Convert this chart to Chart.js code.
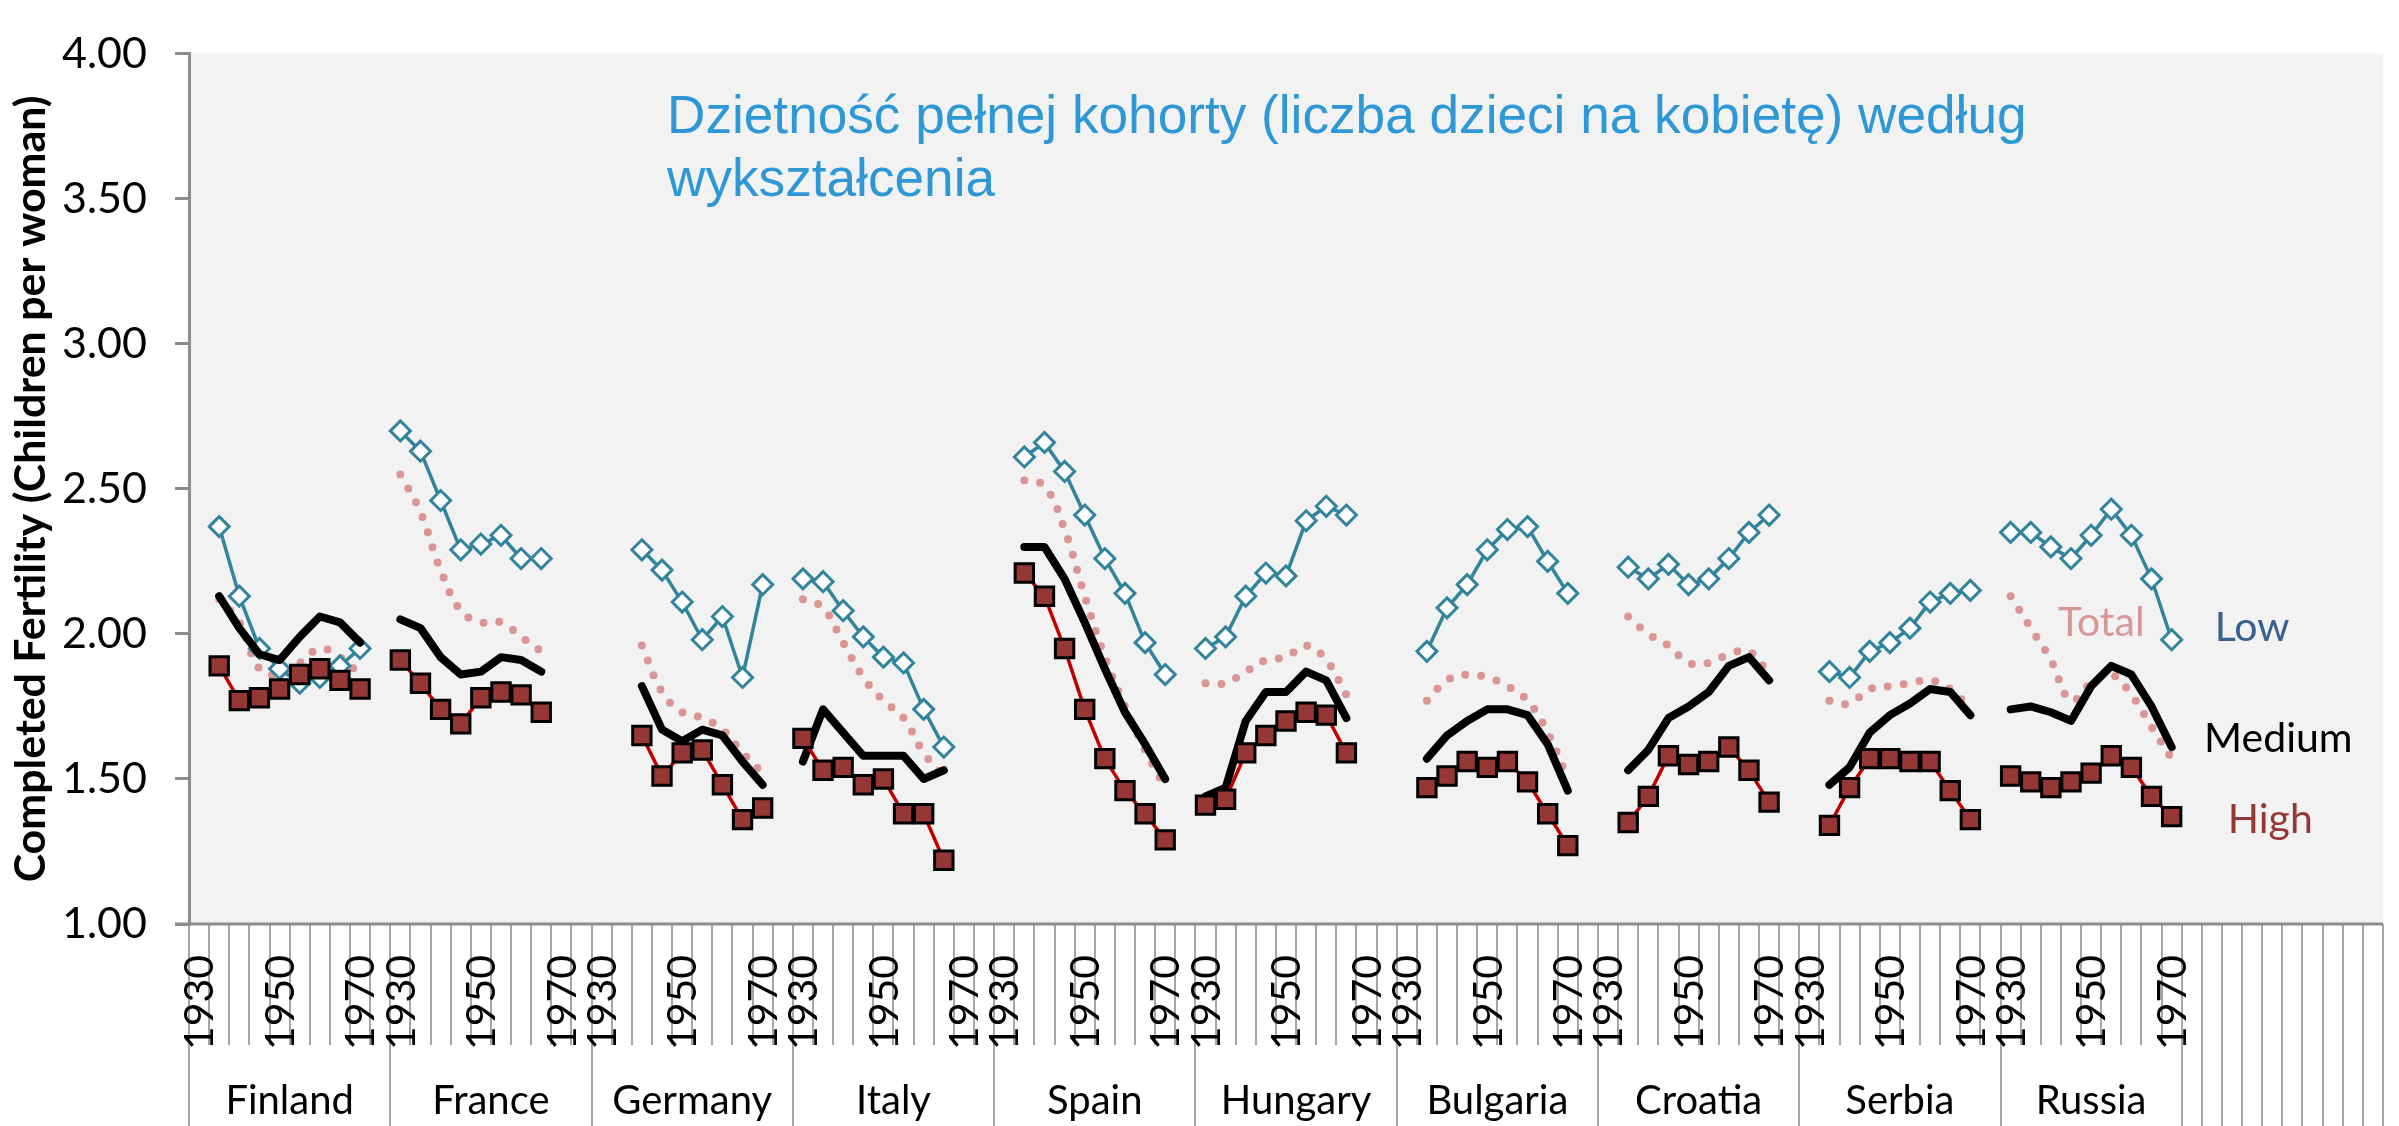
<!DOCTYPE html>
<html>
<head>
<meta charset="utf-8">
<script src="https://cdn.jsdelivr.net/npm/chart.js@4.4.1/dist/chart.umd.min.js"></script>
<style>
  html, body { margin: 0; padding: 0; background: #fff; }
  #wrap { width: 2399px; height: 1126px; }
</style>
</head>
<body>
<div id="wrap"><canvas id="myChart" width="2399" height="1126"></canvas></div>
<script>
const countries = ['Finland', 'France', 'Germany', 'Italy', 'Spain', 'Hungary', 'Bulgaria', 'Croatia', 'Serbia', 'Russia'];
const cohorts = ['1930', '1935', '1940', '1945', '1950', '1955', '1960', '1965', '1970', '1975'];
const shownYears = ['1930', '1950', '1970'];
const trailingSlots = 10;

const titleLines = ['Dzietność pełnej kohorty (liczba dzieci na kobietę) według', 'wykształcenia'];
const yTitle = 'Completed Fertility (Children per woman)';

// one row per country, one value per cohort slot
const lowByCountry = [
  [null, 2.37, 2.13, 1.95, 1.88, 1.83, 1.85, 1.89, 1.95, null],
  [2.70, 2.63, 2.46, 2.29, 2.31, 2.34, 2.26, 2.26, null, null],
  [null, null, 2.29, 2.22, 2.11, 1.98, 2.06, 1.85, 2.17, null],
  [2.19, 2.18, 2.08, 1.99, 1.92, 1.90, 1.74, 1.61, null, null],
  [null, 2.61, 2.66, 2.56, 2.41, 2.26, 2.14, 1.97, 1.86, null],
  [1.95, 1.99, 2.13, 2.21, 2.20, 2.39, 2.44, 2.41, null, null],
  [null, 1.94, 2.09, 2.17, 2.29, 2.36, 2.37, 2.25, 2.14, null],
  [null, 2.23, 2.19, 2.24, 2.17, 2.19, 2.26, 2.35, 2.41, null],
  [null, 1.87, 1.85, 1.94, 1.97, 2.02, 2.11, 2.14, 2.15, null],
  [2.35, 2.35, 2.30, 2.26, 2.34, 2.43, 2.34, 2.19, 1.98]
];

const mediumByCountry = [
  [null, 2.13, 2.02, 1.93, 1.91, 1.99, 2.06, 2.04, 1.97, null],
  [2.05, 2.02, 1.92, 1.86, 1.87, 1.92, 1.91, 1.87, null, null],
  [null, null, 1.82, 1.67, 1.63, 1.67, 1.65, 1.56, 1.48, null],
  [1.56, 1.74, 1.66, 1.58, 1.58, 1.58, 1.50, 1.53, null, null],
  [null, 2.30, 2.30, 2.19, 2.04, 1.88, 1.73, 1.62, 1.50, null],
  [1.44, 1.47, 1.70, 1.80, 1.80, 1.87, 1.84, 1.71, null, null],
  [null, 1.57, 1.65, 1.70, 1.74, 1.74, 1.72, 1.62, 1.46, null],
  [null, 1.53, 1.60, 1.71, 1.75, 1.80, 1.89, 1.92, 1.84, null],
  [null, 1.48, 1.54, 1.66, 1.72, 1.76, 1.81, 1.80, 1.72, null],
  [1.74, 1.75, 1.73, 1.70, 1.82, 1.89, 1.86, 1.75, 1.61]
];

const highByCountry = [
  [null, 1.89, 1.77, 1.78, 1.81, 1.86, 1.88, 1.84, 1.81, null],
  [1.91, 1.83, 1.74, 1.69, 1.78, 1.80, 1.79, 1.73, null, null],
  [null, null, 1.65, 1.51, 1.59, 1.60, 1.48, 1.36, 1.40, null],
  [1.64, 1.53, 1.54, 1.48, 1.50, 1.38, 1.38, 1.22, null, null],
  [null, 2.21, 2.13, 1.95, 1.74, 1.57, 1.46, 1.38, 1.29, null],
  [1.41, 1.43, 1.59, 1.65, 1.70, 1.73, 1.72, 1.59, null, null],
  [null, 1.47, 1.51, 1.56, 1.54, 1.56, 1.49, 1.38, 1.27, null],
  [null, 1.35, 1.44, 1.58, 1.55, 1.56, 1.61, 1.53, 1.42, null],
  [null, 1.34, 1.47, 1.57, 1.57, 1.56, 1.56, 1.46, 1.36, null],
  [1.51, 1.49, 1.47, 1.49, 1.52, 1.58, 1.54, 1.44, 1.37]
];

const totalByCountry = [
  [null, 2.12, 2.04, 1.88, 1.86, 1.90, 1.95, 1.92, 1.86, null],
  [2.55, 2.42, 2.22, 2.08, 2.04, 2.04, 1.99, 1.94, null, null],
  [null, null, 1.96, 1.80, 1.73, 1.71, 1.67, 1.59, 1.52, null],
  [2.12, 2.09, 1.97, 1.85, 1.77, 1.71, 1.59, 1.51, null, null],
  [null, 2.53, 2.51, 2.36, 2.13, 1.92, 1.75, 1.60, 1.47, null],
  [1.83, 1.83, 1.87, 1.91, 1.92, 1.96, 1.91, 1.79, null, null],
  [null, 1.77, 1.84, 1.86, 1.85, 1.82, 1.77, 1.66, 1.50, null],
  [null, 2.06, 2.00, 1.96, 1.90, 1.90, 1.93, 1.94, 1.86, null],
  [null, 1.77, 1.76, 1.81, 1.82, 1.83, 1.84, 1.81, 1.74, null],
  [2.13, 2.02, 1.91, 1.77, 1.83, 1.86, 1.79, 1.68, 1.57]
];

// series names written next to the Russia group (slot index, value)
const seriesNotes = [
  { text: 'Total', slot: 94.5, value: 2.04, color: '#D99694' },
  { text: 'Low', slot: 102.0, value: 2.02, color: '#376092' },
  { text: 'Medium', slot: 103.3, value: 1.64, color: '#000000' },
  { text: 'High', slot: 102.9, value: 1.36, color: '#953735' }
];

// slot layout of the category axis
const groups = [];
let slotCount = 0;
countries.forEach((name, i) => {
  const n = lowByCountry[i].length;
  groups.push({ name: name, start: slotCount, n: n });
  slotCount += n;
});
const lastGroupEnd = slotCount;
slotCount += trailingSlots;

const allLabels = [];
groups.forEach(g => cohorts.slice(0, g.n).forEach(y => allLabels.push(g.name + ' ' + y)));
for (let i = 0; i < trailingSlots; i++) allLabels.push('');

function flatten(rows) {
  const out = [];
  rows.forEach(row => out.push(...row));
  for (let i = 0; i < trailingSlots; i++) out.push(null);
  return out;
}

function fitSize(ctx, text, weight, family, target) {
  ctx.font = `${weight} 100px ${family}`;
  return 100 * target / ctx.measureText(text).width;
}

const plotDecor = {
  id: 'plotDecor',
  beforeDraw(chart) {
    const { ctx, chartArea: a } = chart;
    ctx.save();
    ctx.fillStyle = '#F2F2F2';
    ctx.fillRect(a.left, a.top, a.right - a.left, a.bottom - a.top);
    ctx.restore();
  },
  beforeDatasetsDraw(chart) {
    const { ctx, chartArea: a } = chart;
    ctx.save();
    const size = fitSize(ctx, titleLines[0], '', '"Liberation Sans"', 1360);
    ctx.font = `${size}px "Liberation Sans"`;
    ctx.fillStyle = '#2E97D5';
    ctx.textAlign = 'left';
    ctx.textBaseline = 'alphabetic';
    titleLines.forEach((t, i) => ctx.fillText(t, a.left + 478, a.top + 79 + i * 63));
    ctx.restore();
  },
  afterDraw(chart) {
    const { ctx, chartArea: a } = chart;
    const x = chart.scales.x;
    const y = chart.scales.y;
    const bottom = chart.height;
    ctx.save();

    // separators under the axis
    ctx.strokeStyle = '#A6A6A6';
    ctx.lineWidth = 2;
    const edges = groups.map(g => g.start).concat([lastGroupEnd]);
    for (let b = 0; b <= slotCount; b++) {
      const px = Math.round(x.getPixelForValue(b - 0.5));
      const full = edges.includes(b) || b >= lastGroupEnd;
      ctx.beginPath();
      ctx.moveTo(px, a.bottom);
      ctx.lineTo(px, full ? bottom : a.bottom + 121);
      ctx.stroke();
    }

    // axis line
    ctx.strokeStyle = '#8C8C8C';
    ctx.lineWidth = 3;
    ctx.beginPath();
    ctx.moveTo(a.left - 14, a.bottom);
    ctx.lineTo(a.right, a.bottom);
    ctx.stroke();

    // year labels
    ctx.fillStyle = '#000';
    ctx.font = '41px Lato';
    ctx.textAlign = 'right';
    ctx.textBaseline = 'middle';
    groups.forEach(g => {
      cohorts.slice(0, g.n).forEach((yr, k) => {
        if (!shownYears.includes(yr)) return;
        ctx.save();
        ctx.translate(x.getPixelForValue(g.start + k) + 1, a.bottom + 31);
        ctx.rotate(-Math.PI / 2);
        ctx.fillText(yr, 0, 0);
        ctx.restore();
      });
    });

    // country labels
    ctx.font = '40px Lato';
    ctx.textAlign = 'center';
    ctx.textBaseline = 'alphabetic';
    groups.forEach(g => {
      ctx.fillText(g.name, x.getPixelForValue(g.start + g.n / 2 - 0.5), a.bottom + 190);
    });

    // series names
    ctx.font = '41px Lato';
    ctx.textBaseline = 'middle';
    seriesNotes.forEach(n => {
      ctx.fillStyle = n.color;
      ctx.fillText(n.text, x.getPixelForValue(n.slot), y.getPixelForValue(n.value));
    });

    // y axis title
    const ts = fitSize(ctx, yTitle, 'bold', 'Lato', 787);
    ctx.font = `bold ${ts}px Lato`;
    ctx.fillStyle = '#000';
    ctx.translate(31, (a.top + a.bottom) / 2);
    ctx.rotate(-Math.PI / 2);
    ctx.textAlign = 'center';
    ctx.textBaseline = 'middle';
    ctx.fillText(yTitle, 0, 0);
    ctx.restore();
  }
};

const ctx = document.getElementById('myChart').getContext('2d');

const myChart = new Chart(ctx, {
  type: 'line',
  data: {
    labels: allLabels,
    datasets: [
      {
        label: 'High',
        data: flatten(highByCountry),
        borderColor: '#C00000',
        borderWidth: 3.5,
        pointStyle: 'rect',
        pointRadius: 13,
        pointBackgroundColor: '#953735',
        pointBorderColor: '#000000',
        pointBorderWidth: 3,
        tension: 0
      },
      {
        label: 'Medium',
        data: flatten(mediumByCountry),
        borderColor: '#000000',
        borderWidth: 8,
        borderCapStyle: 'round',
        borderJoinStyle: 'round',
        pointRadius: 0,
        tension: 0
      },
      {
        label: 'Low',
        data: flatten(lowByCountry),
        borderColor: '#31849B',
        borderWidth: 3.5,
        pointStyle: 'rectRot',
        pointRadius: 10,
        pointBackgroundColor: '#FFFFFF',
        pointBorderColor: '#31849B',
        pointBorderWidth: 3,
        tension: 0
      },
      {
        label: 'Total',
        data: flatten(totalByCountry),
        borderColor: '#D99694',
        borderWidth: 8,
        borderDash: [0, 16],
        borderCapStyle: 'round',
        pointRadius: 0,
        tension: 0.4
      }
    ]
  },
  options: {
    responsive: false,
    animation: false,
    devicePixelRatio: 1,
    layout: { padding: { top: 24, left: 0, right: 0, bottom: 0 } },
    plugins: {
      legend: { display: false },
      tooltip: { enabled: false }
    },
    scales: {
      x: {
        type: 'category',
        offset: true,
        ticks: { display: false },
        grid: { display: false },
        border: { display: false },
        afterFit: (scale) => { scale.height = 202; }
      },
      y: {
        min: 1,
        max: 4,
        ticks: {
          stepSize: 0.5,
          padding: 28,
          color: '#000000',
          font: { family: 'Lato', size: 43 },
          callback: (v) => v.toFixed(2)
        },
        grid: {
          drawOnChartArea: false,
          drawTicks: true,
          tickLength: 14,
          color: '#8C8C8C',
          lineWidth: 3
        },
        border: { display: true, color: '#8C8C8C', width: 3 },
        afterFit: (scale) => { scale.width = 189; }
      }
    }
  },
  plugins: [plotDecor]
});
</script>
</body>
</html>
